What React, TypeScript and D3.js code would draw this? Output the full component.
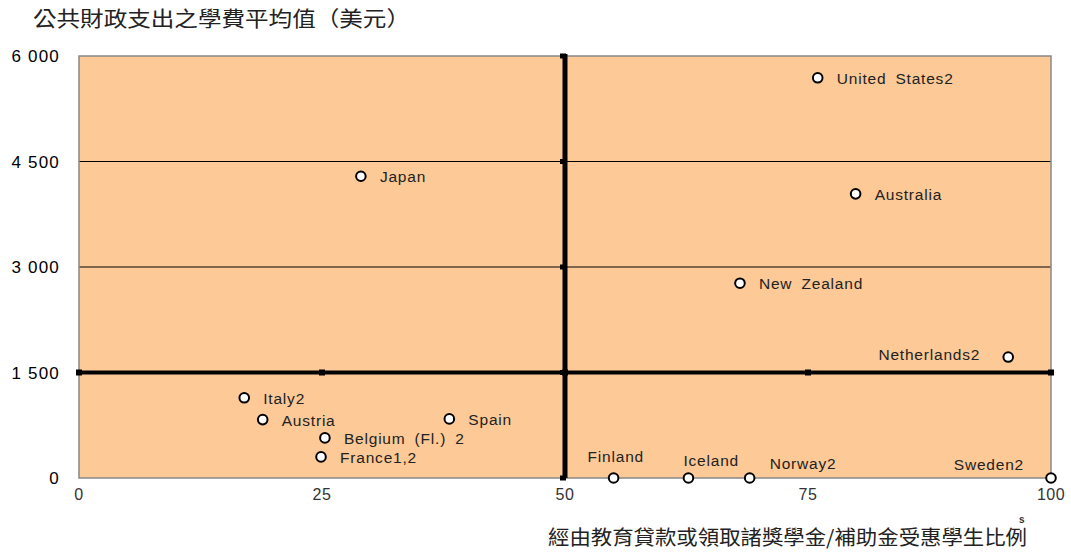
import { useEffect, useRef } from "react";
import * as d3 from "d3";

// Country names, share of students benefiting (%), average tuition (USD)
const COUNTRIES = [
  "United States2", "Japan", "Australia", "New Zealand", "Netherlands2",
  "Italy2", "Austria", "Spain", "Belgium (Fl.) 2", "France1,2",
  "Finland", "Iceland", "Norway2", "Sweden2",
];
const SHARE = [76, 29, 79.9, 68, 95.6, 17, 18.9, 38.1, 25.3, 24.9, 55, 62.7, 69, 100];
const TUITION = [5690, 4290, 4040, 2770, 1720, 1140, 830, 840, 570, 300, 0, 0, 0, 0];

const X_TICKS = [0, 25, 50, 75, 100];
const Y_TICKS = [0, 1500, 3000, 4500, 6000];
const Y_TICK_LABELS = ["0", "1 500", "3 000", "4 500", "6 000"];

const Y_TITLE = "公共財政支出之學費平均值（美元）";
const X_TITLE = "經由教育貸款或領取諸獎學金/補助金受惠學生比例";

// label nudges (px) relative to each point
const LABEL_NUDGE: Record<string, [number, number, string]> = {
  "Netherlands2": [-28, 3, "end"],
  "Finland": [-26, -16, "start"],
  "Iceland": [-5, -12, "start"],
  "Norway2": [20, -9, "start"],
  "Sweden2": [-27, -8, "end"],
};

export default function App() {
  const svgRef = useRef<SVGSVGElement>(null);

  useEffect(() => {
    const width = 1071;
    const height = 554;
    const margin = { top: 56, left: 79 };
    const innerW = 1051 - margin.left;
    const innerH = 478 - margin.top;

    const svg = d3.select(svgRef.current);
    svg.selectAll("*").remove();
    svg.attr("width", width).attr("height", height);

    const font = "'Liberation Sans', Arial, sans-serif";
    const cjk = "'Noto Sans CJK TC', 'Noto Sans CJK SC', sans-serif";

    const g = svg.append("g")
      .attr("transform", `translate(${margin.left},${margin.top})`);

    const x = d3.scaleLinear().domain([0, 100]).range([0, innerW]);
    const y = d3.scaleLinear().domain([0, 6000]).range([innerH, 0]);

    // ----- plot background -----
    g.append("rect")
      .attr("width", innerW).attr("height", innerH)
      .attr("fill", "#FDC996");

    // ----- gridlines -----
    g.selectAll("line.grid")
      .data(Y_TICKS.filter((t) => t > 1500 && t < 6000))
      .enter().append("line")
      .attr("class", "grid")
      .attr("x1", 0).attr("x2", innerW)
      .attr("y1", (d) => y(d)).attr("y2", (d) => y(d))
      .attr("stroke", "#000").attr("stroke-width", 1);

    // border
    g.append("rect")
      .attr("width", innerW).attr("height", innerH)
      .attr("fill", "none")
      .attr("stroke", "#888").attr("stroke-width", 1.5);

    // ----- thick cross axes (at 50 % and 1 500) -----
    g.append("line")
      .attr("x1", x(50)).attr("x2", x(50))
      .attr("y1", -2).attr("y2", innerH)
      .attr("stroke", "#000").attr("stroke-width", 5);
    g.append("line")
      .attr("x1", 0).attr("x2", innerW)
      .attr("y1", y(1500)).attr("y2", y(1500))
      .attr("stroke", "#000").attr("stroke-width", 4);

    // small tick marks on the thick axes
    X_TICKS.forEach((t) => {
      g.append("rect")
        .attr("x", x(t) - 3).attr("y", y(1500) - 3)
        .attr("width", 6).attr("height", 6).attr("fill", "#000");
    });
    Y_TICKS.forEach((t) => {
      g.append("rect")
        .attr("x", x(50) - 5).attr("y", y(t) - 2.5)
        .attr("width", 6).attr("height", 5).attr("fill", "#000");
    });

    // ----- tick labels -----
    g.selectAll("text.ytick")
      .data(Y_TICKS)
      .enter().append("text")
      .attr("class", "ytick")
      .attr("x", -19).attr("y", (d) => y(d) + 6)
      .attr("text-anchor", "end")
      .attr("font-family", font).attr("font-size", 17)
      .attr("letter-spacing", 1.2)
      .attr("fill", "#000")
      .text((d, i) => Y_TICK_LABELS[i]);

    g.selectAll("text.xtick")
      .data(X_TICKS)
      .enter().append("text")
      .attr("class", "xtick")
      .attr("x", (d) => x(d)).attr("y", innerH + 22)
      .attr("text-anchor", "middle")
      .attr("font-family", font).attr("font-size", 16)
      .attr("letter-spacing", 0.5)
      .attr("fill", "#333")
      .text((d) => d);

    // ----- points -----
    const data = COUNTRIES.map((c, i) => ({ name: c, sx: SHARE[i], ty: TUITION[i] }));

    g.selectAll("circle.pt")
      .data(data)
      .enter().append("circle")
      .attr("class", "pt")
      .attr("cx", (d) => x(d.sx)).attr("cy", (d) => y(d.ty))
      .attr("r", 4.8)
      .attr("fill", "#fff")
      .attr("stroke", "#000").attr("stroke-width", 2);

    g.selectAll("text.lbl")
      .data(data)
      .enter().append("text")
      .attr("class", "lbl")
      .attr("x", (d) => x(d.sx) + (LABEL_NUDGE[d.name] ? LABEL_NUDGE[d.name][0] : 19))
      .attr("y", (d) => y(d.ty) + (LABEL_NUDGE[d.name] ? LABEL_NUDGE[d.name][1] : 6))
      .attr("text-anchor", (d) => (LABEL_NUDGE[d.name] ? LABEL_NUDGE[d.name][2] : "start"))
      .attr("font-family", font).attr("font-size", 15.5)
      .attr("letter-spacing", 0.8)
      .attr("word-spacing", 4)
      .attr("fill", "#222")
      .text((d) => d.name);

    // ----- titles -----
    svg.append("text")
      .attr("x", 33).attr("y", 26)
      .attr("font-family", cjk).attr("font-size", 21)
      .attr("textLength", 377).attr("lengthAdjust", "spacingAndGlyphs")
      .attr("fill", "#222")
      .text(Y_TITLE);
    svg.append("text")
      .attr("x", 548).attr("y", 545)
      .attr("font-family", cjk).attr("font-size", 20)
      .attr("textLength", 479).attr("lengthAdjust", "spacingAndGlyphs")
      .attr("fill", "#222")
      .text(X_TITLE);
    svg.append("text")
      .attr("x", 1019).attr("y", 523)
      .attr("font-family", font).attr("font-size", 10).attr("font-weight", "bold")
      .attr("fill", "#333")
      .text("s");
  }, []);

  return (
    <svg ref={svgRef} style={{ position: "absolute", left: 0, top: 0, display: "block" }}></svg>
  );
}
